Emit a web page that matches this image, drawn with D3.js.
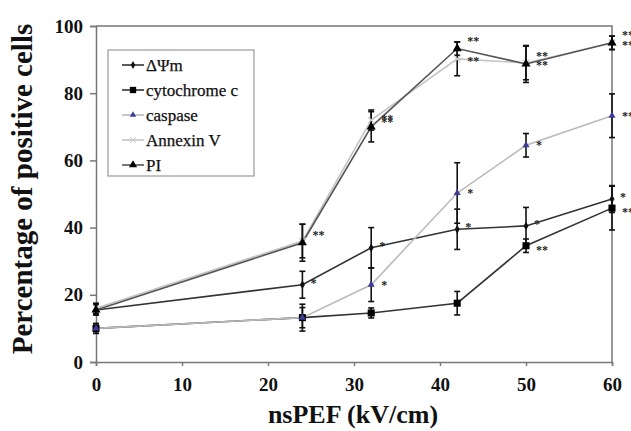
<!DOCTYPE html>
<html>
<head>
<meta charset="utf-8">
<script src="https://cdn.jsdelivr.net/npm/d3@7"></script>
<style>
  body { margin: 0; background: #fff; }
</style>
</head>
<body>
<svg width="631" height="431" font-family="'Liberation Serif', Tinos, 'Times New Roman', Times, serif"></svg>
<script>
// field strengths (kV/cm)
const fields = [0, 24, 32, 42, 50, 60];

// % positive cells, per marker
const dPsi = [15.5, 23, 34, 39.5, 40.5, 48.5];
const cytC = [10, 13.2, 14.6, 17.5, 34.6, 45.8];
const caspase = [10, 13.2, 23, 50.3, 64.5, 73.3];
const annexin = [16, 36, 72, 90.2, 89, 95];
const pi = [15.5, 35.5, 70, 93.3, 88.7, 95];

// error bars (+/-)
const dPsiErr = [1.5, 4, 6, 6, 5.5, 4];
const cytCErr = [1.5, 4, 1.5, 3.5, 2, 6.5];
const caspaseErr = [1, 3, 5, 9, 3.5, 6.5];
const annexinErr = [1.5, 5, 3, 5, 5, 2];
const piErr = [1.5, 5.5, 4.5, 2, 5.5, 2];

// significance marks
const dPsiSig = ['', '*', '*', '*', '*', '*'];
const cytCSig = ['', '', '', '', '**', '**'];
const caspaseSig = ['', '', '*', '*', '*', '**'];
const annexinSig = ['', '', '**', '**', '**', '**'];
const piSig = ['', '**', '**', '**', '**', '**'];

const yTicks = [0, 20, 40, 60, 80, 100];
const xTicks = [0, 10, 20, 30, 40, 50, 60];

const serif = "'Liberation Serif', Tinos, 'Times New Roman', Times, serif";

const series = [
  { name: 'ΔΨm', values: dPsi, err: dPsiErr, sig: dPsiSig, line: '#333', mark: 'diamond', fill: '#111', size: 22, sdx: 8, sdy: 2 },
  { name: 'cytochrome c', values: cytC, err: cytCErr, sig: cytCSig, line: '#333', mark: 'square', fill: '#000', size: 50, sdx: 10, sdy: 8 },
  { name: 'caspase', values: caspase, err: caspaseErr, sig: caspaseSig, line: '#bbb', mark: 'triangle', fill: '#3c3c9a', size: 22, sdx: 10, sdy: 4 },
  { name: 'Annexin V', values: annexin, err: annexinErr, sig: annexinSig, line: '#c4c4c4', mark: 'cross', fill: '#ccc', size: 30, sdx: 10, sdy: 6 },
  { name: 'PI', values: pi, err: piErr, sig: piSig, line: '#555', mark: 'triangle', fill: '#000', size: 36, sdx: 10, sdy: -4 },
];

const svg = d3.select('svg');
const x = d3.scaleLinear().domain([0, 60]).range([96, 612]);
const y = d3.scaleLinear().domain([0, 100]).range([362, 26]);

const shapes = {
  diamond: d3.symbolDiamond,
  square: d3.symbolSquare,
  triangle: d3.symbolTriangle,
  cross: d3.symbolX,
};

// frame on top and right
svg.append('path')
  .attr('d', `M${x(0)},${y(100)}H${x(60)}V${y(0)}`)
  .attr('fill', 'none')
  .attr('stroke', '#777')
  .attr('stroke-width', 1.5);

const yAxis = svg.append('g')
  .attr('transform', `translate(${x(0)},0)`)
  .call(d3.axisLeft(y).tickValues(yTicks).tickSize(6).tickPadding(7));

const xAxis = svg.append('g')
  .attr('transform', `translate(0,${y(0)})`)
  .call(d3.axisBottom(x).tickValues(xTicks).tickSize(4).tickPadding(12));

yAxis.attr('font-family', serif);
xAxis.attr('font-family', serif);
svg.selectAll('.tick text')
  .attr('font-size', 19).attr('font-weight', 'bold').attr('fill', '#111');

svg.selectAll('.domain, .tick line')
  .attr('stroke', '#777').attr('stroke-width', 1.5);

// axis titles
svg.append('text')
  .attr('x', 353).attr('y', 423)
  .attr('text-anchor', 'middle')
  .attr('font-size', 26).attr('font-weight', 'bold')
  .attr('fill', '#111')
  .text('nsPEF (kV/cm)');

svg.append('text')
  .attr('transform', 'translate(32,189) rotate(-90)')
  .attr('text-anchor', 'middle')
  .attr('font-size', 29).attr('font-weight', 'bold')
  .attr('fill', '#111')
  .text('Percentage of positive cells');

const line = d3.line()
  .x((d, i) => x(fields[i]))
  .y(d => y(d));

// lines
svg.append('g').selectAll('path')
  .data(series)
  .join('path')
  .attr('d', s => line(s.values))
  .attr('fill', 'none')
  .attr('stroke', s => s.line)
  .attr('stroke-width', 1.6);

// error bars
series.forEach(s => {
  const g = svg.append('g').attr('stroke', '#111').attr('stroke-width', 1.6);
  s.values.forEach((v, i) => {
    const cx = x(fields[i]);
    const top = y(v + s.err[i]);
    const bot = y(v - s.err[i]);
    g.append('line').attr('x1', cx).attr('x2', cx).attr('y1', top).attr('y2', bot);
    g.append('line').attr('x1', cx - 3).attr('x2', cx + 3).attr('y1', top).attr('y2', top);
    g.append('line').attr('x1', cx - 3).attr('x2', cx + 3).attr('y1', bot).attr('y2', bot);
  });
});

// markers
series.forEach(s => {
  svg.append('g').selectAll('path')
    .data(s.values)
    .join('path')
    .attr('transform', (d, i) => `translate(${x(fields[i])},${y(d)})`)
    .attr('d', d3.symbol().type(shapes[s.mark]).size(s.size))
    .attr('fill', s.fill)
    .attr('stroke', s.mark === 'cross' ? s.fill : 'none')
    .attr('stroke-width', 1.2);
});

// significance stars
series.forEach(s => {
  svg.append('g').selectAll('text')
    .data(s.values)
    .join('text')
    .attr('x', (d, i) => x(fields[i]) + s.sdx)
    .attr('y', (d, i) => y(d) + s.sdy)
    .attr('font-size', 12).attr('font-weight', 'bold')
    .attr('fill', '#222')
    .text((d, i) => s.sig[i]);
});

// legend
const legend = svg.append('g');
legend.append('rect')
  .attr('x', 108).attr('y', 50).attr('width', 146).attr('height', 126)
  .attr('fill', '#fff').attr('stroke', '#999').attr('stroke-width', 1.2);

const item = legend.selectAll('g.item')
  .data(series)
  .join('g')
  .attr('class', 'item')
  .attr('transform', (s, i) => `translate(0,${65 + i * 25})`);
item.append('line')
  .attr('x1', 122).attr('x2', 144)
  .attr('stroke', s => s.line).attr('stroke-width', 1.6);
item.append('path')
  .attr('transform', 'translate(133,0)')
  .attr('d', s => d3.symbol().type(shapes[s.mark]).size(s.size * 0.8)())
  .attr('fill', s => s.fill)
  .attr('stroke', s => s.mark === 'cross' ? s.fill : 'none');
item.append('text')
  .attr('x', 146).attr('y', 6)
  .attr('font-size', 17).attr('fill', '#111')
  .attr('stroke', '#111').attr('stroke-width', 0.25)
  .text(s => s.name);
</script>
</body>
</html>
